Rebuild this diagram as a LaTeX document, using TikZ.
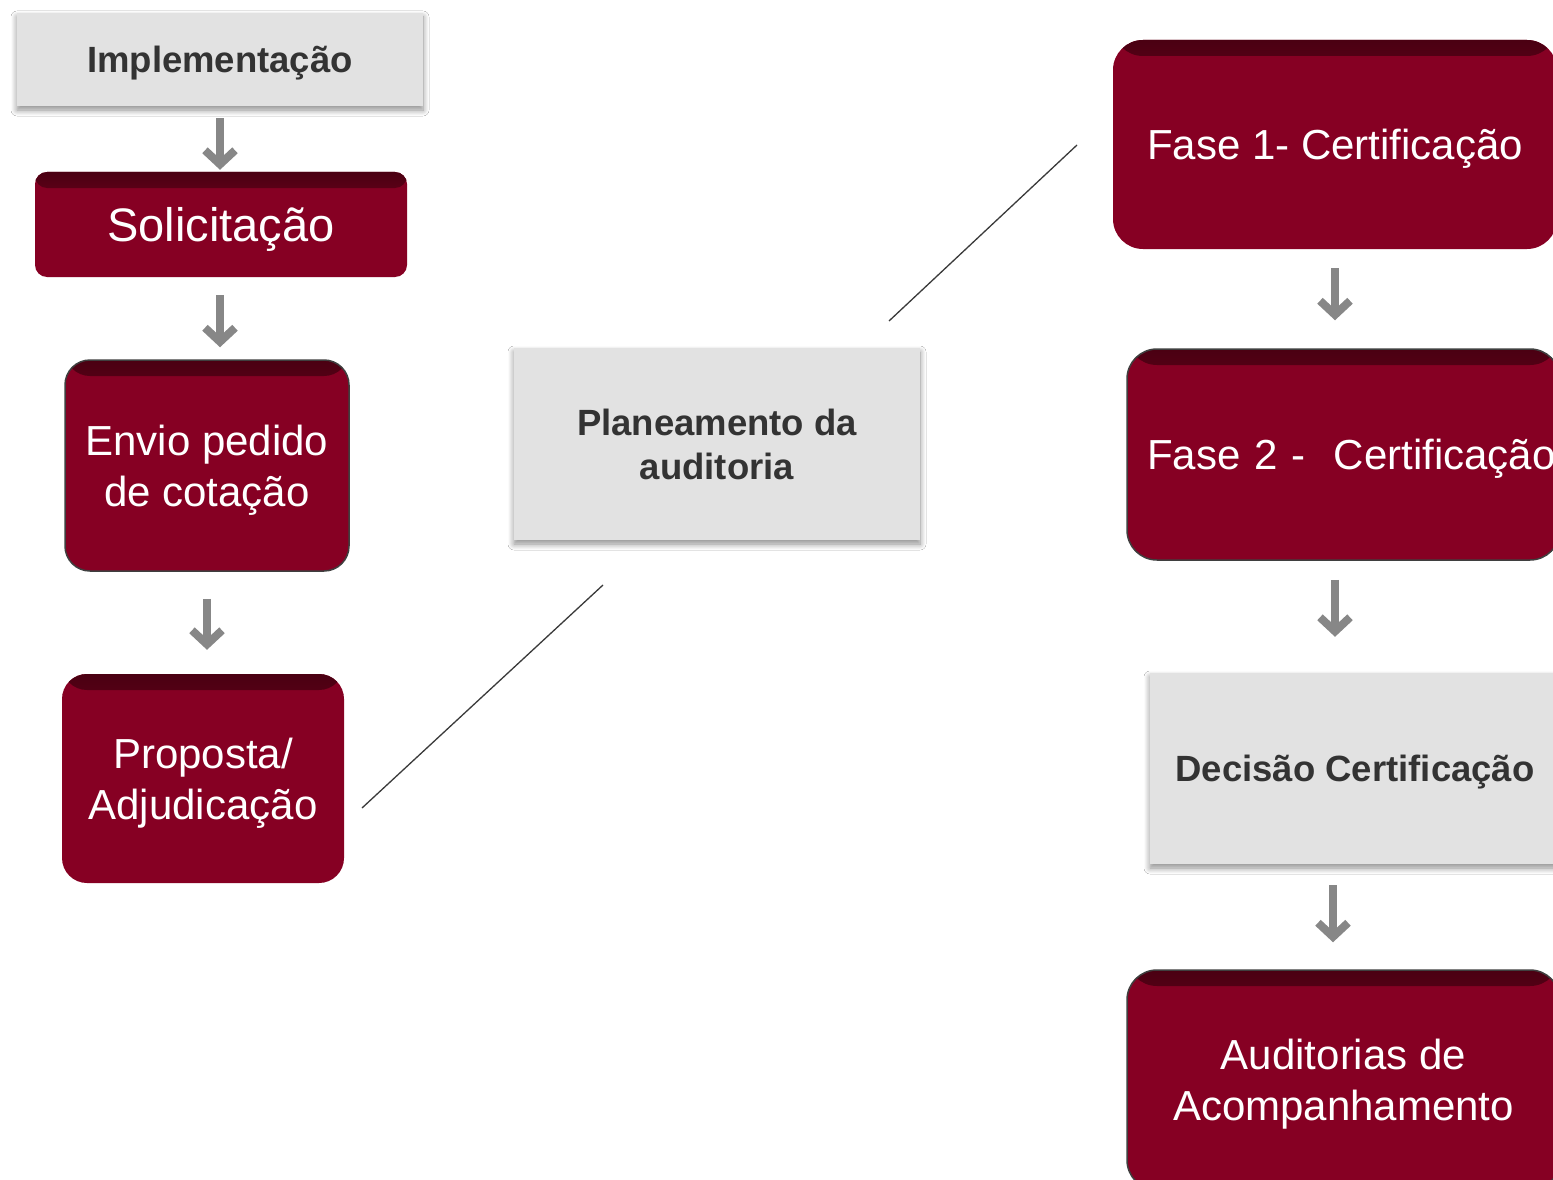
\documentclass[tikz,border=0pt]{standalone}
\usepackage{fontspec}
\setmainfont{Liberation Sans}
\usetikzlibrary{arrows.meta,shadows.blur}
\definecolor{wine}{HTML}{860023}
\definecolor{winedark}{HTML}{4A0012}
\definecolor{greyfillc}{HTML}{E2E2E2}
\definecolor{greytext}{HTML}{333333}
\definecolor{arrowgrey}{HTML}{878787}
\definecolor{edgec}{HTML}{3F3F3F}
\definecolor{linec}{HTML}{3A3A3A}
\pgfdeclareverticalshading{topglow}{100bp}{color(0bp)=(wine); color(25bp)=(wine); color(45bp)=(wine); color(75bp)=(winedark); color(100bp)=(winedark)}
\begin{document}
\begin{tikzpicture}[x=1pt,y=-1pt,
  redbox/.style={rectangle, fill=wine, text=white, rounded corners=25pt,
    align=center, inner sep=0pt, text depth=0pt, font=\fontsize{42}{51}\selectfont,
    path picture={\shade[shading=topglow]
      ([yshift=1pt]path picture bounding box.north west) rectangle
      ([yshift=-16pt]path picture bounding box.north east);}},
  outlined/.style={draw=edgec, line width=1.5pt},
  greybox/.style={rectangle, fill=greyfillc, text=greytext, align=center,
    inner sep=0pt, text depth=0pt, font=\bfseries\fontsize{36.5}{44}\selectfont,
    blur shadow={shadow xshift=0pt, shadow yshift=-4pt,
      shadow blur radius=6pt, shadow blur steps=8, shadow opacity=45}},
  arr/.style={draw=arrowgrey, line width=8.5pt,
    -{Straight Barb[length=14pt,width=30pt,line width=8pt]}},
  thinline/.style={draw=linec, line width=1.3pt}]
\useasboundingbox (0,0) rectangle (1553,1180);
\clip (0,0) rectangle (1553,1180);
\fill[white] (0,0) rectangle (1553,1180);

% left column
\node[greybox, minimum width=406pt, minimum height=93pt] (impl) at (220,59.5) {Implementação};
\node[redbox, rounded corners=12pt, minimum width=372pt, minimum height=105pt,
  font=\fontsize{47}{54}\selectfont] (solic) at (221,224.5) {Solicitação};
\node[redbox, outlined, minimum width=284pt, minimum height=211pt] (envio) at (207,465.5) {Envio pedido\\de cotação};
\node[redbox, minimum width=282pt, minimum height=209pt] (prop) at (203,778.5) {Proposta/\\Adjudicação};

% middle
\node[greybox, minimum width=406pt, minimum height=192pt] (plan) at (717,444) {Planeamento da\\auditoria};

% right column
\node[redbox, rounded corners=30pt, minimum width=444pt, minimum height=209pt] (fase1) at (1335,144.5) {Fase 1- Certificação};
\node[redbox, outlined, rounded corners=30pt, minimum width=433pt, minimum height=211pt,
  text width=393pt, align=left] (fase2) at (1343.5,454.5) {\mbox{Fase 2 -\ \ Certificação}};
\node[greybox, minimum width=410pt, minimum height=191pt] (decis) at (1355,768.5) {Decisão Certificação};
\node[redbox, outlined, rounded corners=30pt, minimum width=433pt, minimum height=220pt] (audit) at (1343.5,1080) {Auditorias de\\Acompanhamento};

% arrows
\draw[arr, shorten <=12pt, shorten >=2pt] (impl.south) -- (impl.south |- solic.north);
\draw[arr, shorten <=18pt, shorten >=12pt] ([xshift=-1pt]solic.south) -- ([xshift=-1pt]solic.south |- envio.north);
\draw[arr, shorten <=27pt, shorten >=24pt] (envio.south) -- (envio.south |- prop.north);
\draw[arr, shorten <=19pt, shorten >=28pt] (fase1.south) -- (fase1.south |- fase2.north);
\draw[arr, shorten <=19pt, shorten >=36pt] (fase1.south |- fase2.south) -- (fase1.south |- decis.north);
\draw[arr, shorten <=21pt, shorten >=27pt] ([xshift=-2pt]fase1.south |- decis.south) -- ([xshift=-2pt]fase1.south |- audit.north);

% thin lines
\coordinate (l1a) at (362,808);
\coordinate (l1b) at (603,585);
\coordinate (l2a) at (889,321);
\coordinate (l2b) at (1077,145);
\draw[thinline] (l1a) -- (l1b);
\draw[thinline] (l2a) -- (l2b);
\end{tikzpicture}
\end{document}
